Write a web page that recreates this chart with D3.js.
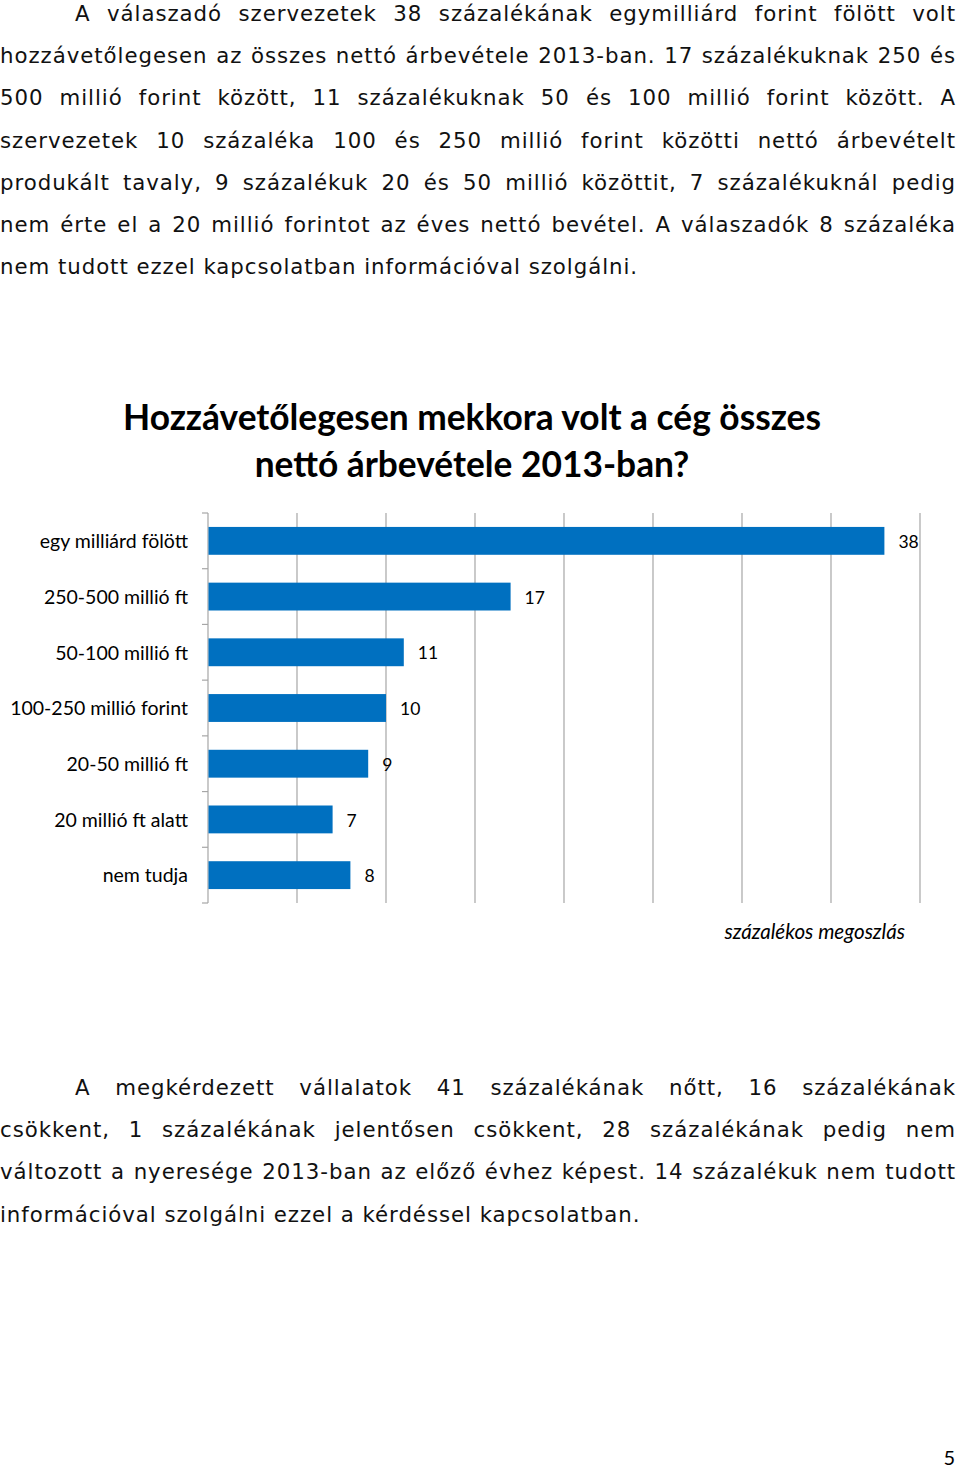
<!DOCTYPE html>
<html>
<head>
<meta charset="utf-8">
<script src="https://cdn.jsdelivr.net/npm/d3@7"></script>
<style>
  html, body { margin: 0; padding: 0; background: #fff; }
  svg { display: block; }
</style>
</head>
<body>
<svg id="page" width="960" height="1470"></svg>
<script>
// ---- data ----
const categories = [
  "egy milliárd fölött",
  "250-500 millió ft",
  "50-100 millió ft",
  "100-250 millió forint",
  "20-50 millió ft",
  "20 millió ft alatt",
  "nem tudja"
];
const values = [38, 17, 11, 10, 9, 7, 8];
const xTicks = [0, 5, 10, 15, 20, 25, 30, 35, 40];
const titleLines = [
  "Hozzávetőlegesen mekkora volt a cég összes",
  "nettó árbevétele 2013-ban?"
];
const axisTitle = "százalékos megoszlás";
const para1 = [
  "A válaszadó szervezetek 38 százalékának egymilliárd forint fölött volt",
  "hozzávetőlegesen az összes nettó árbevétele 2013-ban. 17 százalékuknak 250 és",
  "500 millió forint között, 11 százalékuknak 50 és 100 millió forint között. A",
  "szervezetek 10 százaléka 100 és 250 millió forint közötti nettó árbevételt",
  "produkált tavaly, 9 százalékuk 20 és 50 millió közöttit, 7 százalékuknál pedig",
  "nem érte el a 20 millió forintot az éves nettó bevétel. A válaszadók 8 százaléka",
  "nem tudott ezzel kapcsolatban információval szolgálni."
];
const para2 = [
  "A megkérdezett vállalatok 41 százalékának nőtt, 16 százalékának",
  "csökkent, 1 százalékának jelentősen csökkent, 28 százalékának pedig nem",
  "változott a nyeresége 2013-ban az előző évhez képest. 14 százalékuk nem tudott",
  "információval szolgálni ezzel a kérdéssel kapcsolatban."
];
const pageNumber = "5";

// ---- page ----
const svg = d3.select("#page");
const bodyFont = "'DejaVu Sans', Verdana, sans-serif";
const chartFont = "Lato, Carlito, Calibri, sans-serif";

function paragraph(lines, top, indent) {
  const lineH = 42.2, left = 0, right = 956;
  lines.forEach((ln, i) => {
    const x0 = left + (i === 0 ? indent : 0);
    const t = svg.append("text")
      .attr("x", x0)
      .attr("y", top + i * lineH)
      .attr("font-family", bodyFont)
      .attr("font-size", 21.3)
      .style("letter-spacing", "0.95px")
      .attr("fill", "#111")
      .text(ln);
    if (i < lines.length - 1) {
      const w = t.node().getComputedTextLength();
      const spaces = (ln.match(/ /g) || []).length;
      if (spaces > 0) {
        t.style("word-spacing", ((right - x0 - w) / spaces) + "px");
      }
    }
  });
}
paragraph(para1, 21, 75);
paragraph(para2, 1095, 75);

// ---- chart ----
const x = d3.scaleLinear().domain([0, 40]).range([208, 920]);
const y = d3.scaleBand().domain(categories).range([513, 903])
  .paddingInner(0.5).paddingOuter(0.25);

const g = svg.append("g");

// title
g.append("g").selectAll("text").data(titleLines).join("text")
  .attr("x", 472)
  .attr("y", (d, i) => 430 + i * 47)
  .attr("text-anchor", "middle")
  .attr("font-family", chartFont)
  .attr("font-weight", "bold")
  .attr("font-size", 35.3)
  .attr("fill", "#000")
  .text(d => d);

// gridlines
g.append("g").selectAll("line").data(xTicks.filter(d => d > 0)).join("line")
  .attr("x1", d => x(d)).attr("x2", d => x(d))
  .attr("y1", 513).attr("y2", 903)
  .attr("stroke", "#a6a6a6").attr("stroke-width", 1.2);

// left axis with tick marks at band boundaries
const yAxisG = g.append("g");
yAxisG.append("line")
  .attr("x1", x(0)).attr("x2", x(0)).attr("y1", 513).attr("y2", 903)
  .attr("stroke", "#a6a6a6").attr("stroke-width", 1.2);
const bounds = d3.range(categories.length + 1).map(i => 513 + i * y.step());
yAxisG.selectAll("line.tick").data(bounds).join("line")
  .attr("class", "tick")
  .attr("x1", x(0) - 6).attr("x2", x(0))
  .attr("y1", d => d).attr("y2", d => d)
  .attr("stroke", "#a6a6a6").attr("stroke-width", 1.2);

// bars
g.append("g").selectAll("rect").data(values).join("rect")
  .attr("x", x(0) + 0.5)
  .attr("y", (d, i) => y(categories[i]))
  .attr("width", d => x(d) - x(0) - 0.5)
  .attr("height", y.bandwidth())
  .attr("fill", "#0070c0");

// value labels
g.append("g").selectAll("text").data(values).join("text")
  .attr("x", d => x(d) + 14)
  .attr("y", (d, i) => y(categories[i]) + y.bandwidth() / 2 + 1)
  .attr("dy", "0.35em")
  .attr("font-family", chartFont)
  .attr("font-size", 17.5)
  .attr("fill", "#000")
  .text(d => d);

// category labels
g.append("g").selectAll("text").data(categories).join("text")
  .attr("x", 188)
  .attr("y", d => y(d) + y.bandwidth() / 2 + 0.5)
  .attr("dy", "0.35em")
  .attr("text-anchor", "end")
  .attr("font-family", chartFont)
  .attr("font-size", 19.5)
  .attr("fill", "#000")
  .text(d => d);

// axis title
g.append("text")
  .attr("x", 905).attr("y", 939)
  .attr("text-anchor", "end")
  .attr("font-family", chartFont)
  .attr("font-style", "italic")
  .attr("font-size", 20.6)
  .attr("fill", "#000")
  .text(axisTitle);

// page number
svg.append("text")
  .attr("x", 955).attr("y", 1465)
  .attr("text-anchor", "end")
  .attr("font-family", chartFont)
  .attr("font-size", 20)
  .attr("fill", "#000")
  .text(pageNumber);
</script>
</body>
</html>
